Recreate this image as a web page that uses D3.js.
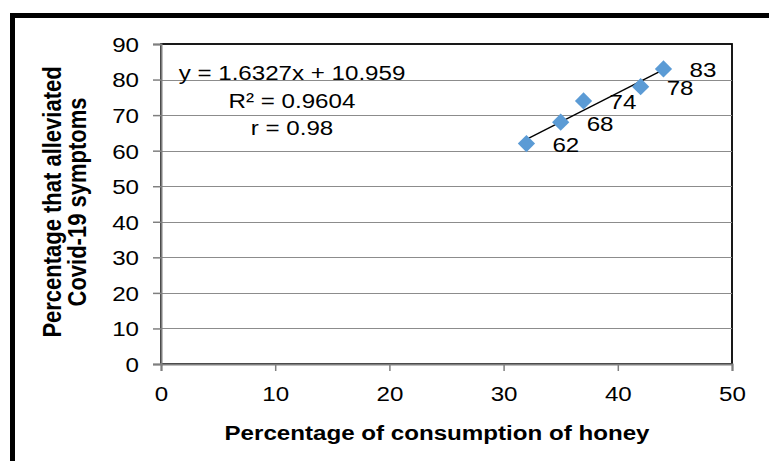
<!DOCTYPE html>
<html>
<head>
<meta charset="utf-8">
<script src="https://cdn.jsdelivr.net/npm/d3@7"></script>
<style>
  html, body { margin: 0; padding: 0; background: #fff; }
  svg { display: block; font-family: "Liberation Sans", Arial, sans-serif; }
</style>
</head>
<body>
<div id="chart"></div>
<script>
// data
const consumption = [32, 35, 37, 42, 44];
const alleviated = [62, 68, 74, 78, 83];
const pointLabels = ['62', '68', '74', '78', '83'];
const xTicks = [0, 10, 20, 30, 40, 50];
const yTicks = [0, 10, 20, 30, 40, 50, 60, 70, 80, 90];
const trendSlope = 1.6327, trendIntercept = 10.959;
const equationLines = ['y = 1.6327x + 10.959', 'R\u00b2 = 0.9604', 'r = 0.98'];

const W = 769, H = 461;
const SX = 1.15; // the picture is a bit wider than tall, text looks stretched
const FS = '21px';
const margin = { top: 44, right: 37, bottom: 97, left: 161 },
  width = W - margin.left - margin.right,
  height = H - margin.top - margin.bottom;

const svg = d3.select('#chart').append('svg')
  .attr('width', W)
  .attr('height', H);

// outer thick frame (runs off the right / bottom edge)
svg.append('rect')
  .attr('x', 12.5).attr('y', 15.5)
  .attr('width', 820).attr('height', 520)
  .attr('fill', 'none')
  .attr('stroke', '#000')
  .attr('stroke-width', 5);

const x = d3.scaleLinear().domain([0, 50]).range([0, width]);
const y = d3.scaleLinear().domain([0, 90]).range([height, 0]);

const g = svg.append('g')
  .attr('transform', `translate(${margin.left},${margin.top})`);

// plot area frame
g.append('rect')
  .attr('x', 0).attr('y', 0)
  .attr('width', width).attr('height', height)
  .attr('fill', 'none')
  .attr('stroke', '#000')
  .attr('stroke-width', 1.8);

// gridlines
g.selectAll('.grid')
  .data(yTicks.filter(d => d > 0 && d < 90))
  .enter().append('line')
  .attr('class', 'grid')
  .attr('x1', 0).attr('x2', width)
  .attr('y1', d => Math.round(y(d)) + 0.5)
  .attr('y2', d => Math.round(y(d)) + 0.5)
  .attr('stroke', '#8c8c8c')
  .attr('stroke-width', 1.2);

// axes
const yAxis = g.append('g')
  .call(d3.axisLeft(y).tickValues(yTicks).tickSize(8).tickPadding(0));
const xAxis = g.append('g')
  .attr('transform', `translate(0,${height})`)
  .call(d3.axisBottom(x).tickValues(xTicks).tickSize(7).tickPadding(0));

[yAxis, xAxis].forEach(a => {
  a.select('.domain').attr('stroke', '#7f7f7f').attr('stroke-width', 2);
  a.selectAll('.tick line').attr('stroke', '#7f7f7f').attr('stroke-width', 1.5);
  a.selectAll('.tick text')
    .attr('fill', '#000')
    .style('font-size', FS)
    .style('font-family', '"Liberation Sans", Arial, sans-serif');
});
yAxis.selectAll('.tick text')
  .attr('x', 0).attr('dy', '0.35em')
  .attr('transform', `translate(-22,0) scale(${SX},1)`);
xAxis.selectAll('.tick text')
  .attr('y', 0).attr('dy', 0)
  .attr('transform', `translate(0,37) scale(${SX},1)`);

// trendline over the data range
const xr = d3.extent(consumption);
g.append('line')
  .attr('x1', x(xr[0])).attr('y1', y(trendSlope * xr[0] + trendIntercept))
  .attr('x2', x(xr[1])).attr('y2', y(trendSlope * xr[1] + trendIntercept))
  .attr('stroke', '#000')
  .attr('stroke-width', 1.4);

// diamonds
const pts = consumption.map((c, i) => ({ c: c, v: alleviated[i], label: pointLabels[i] }));
g.selectAll('.pt')
  .data(pts)
  .enter().append('path')
  .attr('class', 'pt')
  .attr('transform', d => `translate(${x(d.c)},${y(d.v)})`)
  .attr('d', d3.symbol().type(d3.symbolDiamond2).size(190))
  .attr('fill', '#5b9bd5');

// data labels
g.selectAll('.lbl')
  .data(pts)
  .enter().append('text')
  .attr('class', 'lbl')
  .attr('transform', d => `translate(${x(d.c) + 26},${y(d.v) + 8.5}) scale(${SX},1)`)
  .style('font-size', FS)
  .attr('fill', '#000')
  .text(d => d.label);

// trendline equation
g.selectAll('.eq')
  .data(equationLines)
  .enter().append('text')
  .attr('class', 'eq')
  .attr('transform', (d, i) => `translate(${292 - margin.left},${80 - margin.top + i * 27.5}) scale(${SX},1)`)
  .attr('text-anchor', 'middle')
  .style('font-size', FS)
  .attr('fill', '#000')
  .text(d => d);

// axis titles
svg.append('text')
  .attr('transform', `translate(437,440) scale(${SX},1)`)
  .attr('text-anchor', 'middle')
  .style('font-size', FS)
  .style('font-weight', 'bold')
  .text('Percentage of consumption of honey');

const yTitle = svg.append('text')
  .attr('transform', `translate(0,202) scale(${SX},1) rotate(-90)`)
  .attr('text-anchor', 'middle')
  .style('font-size', '22px')
  .style('font-weight', 'bold');
yTitle.append('tspan').attr('x', 0).attr('y', 53).text('Percentage that alleviated');
yTitle.append('tspan').attr('x', 0).attr('y', 75).text('Covid-19 symptoms');
</script>
</body>
</html>
